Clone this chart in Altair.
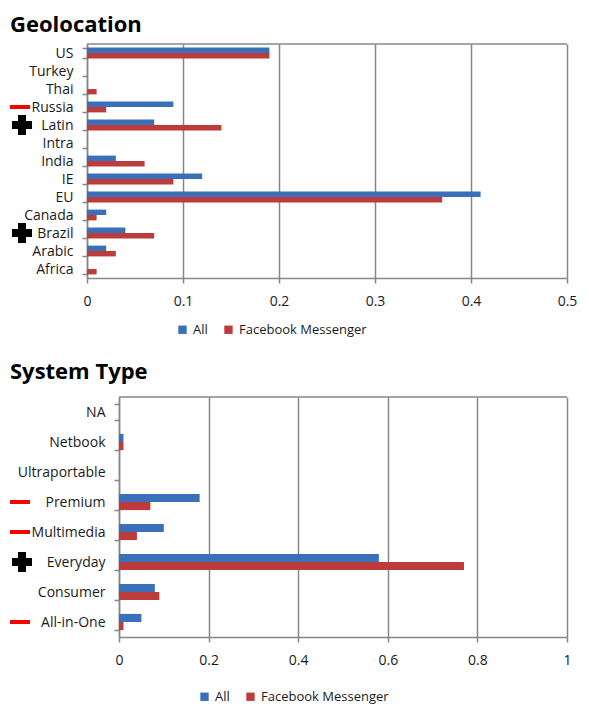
import altair as alt
import pandas as pd

SERIES = ["All", "Facebook Messenger"]
COLORS = ["#3A70BA", "#BC3B3B"]

geo_categories = ["US", "Turkey", "Thai", "Russia", "Latin", "Intra", "India",
                  "IE", "EU", "Canada", "Brazil", "Arabic", "Africa"]
geo_all = [0.19, 0.0, 0.0, 0.09, 0.07, 0.0, 0.03, 0.12, 0.41, 0.02, 0.04, 0.02, 0.0]
geo_fb = [0.19, 0.0, 0.01, 0.02, 0.14, 0.0, 0.06, 0.09, 0.37, 0.01, 0.07, 0.03, 0.01]
geo_minus = ["Russia"]
geo_plus = ["Latin", "Brazil"]
geo_ticks = [0, 0.1, 0.2, 0.3, 0.4, 0.5]

sys_categories = ["NA", "Netbook", "Ultraportable", "Premium", "Multimedia",
                  "Everyday", "Consumer", "All-in-One"]
sys_all = [0.0, 0.01, 0.0, 0.18, 0.10, 0.58, 0.08, 0.05]
sys_fb = [0.0, 0.01, 0.0, 0.07, 0.04, 0.77, 0.09, 0.01]
sys_minus = ["Premium", "Multimedia", "All-in-One"]
sys_plus = ["Everyday"]
sys_ticks = [0, 0.2, 0.4, 0.6, 0.8, 1]

FONT = "Open Sans"
GRID = "#878787"
TXT = "#1a1a1a"


def panel(title, cats, a, f, minus, plus, ticks, xmax, width, height, shift,
          pad_inner, icon_x, legend_x, legend_y, title_offset):
    rows = []
    for c, va, vf in zip(cats, a, f):
        rows.append({"cat": c, "series": SERIES[0], "value": va})
        rows.append({"cat": c, "series": SERIES[1], "value": vf})
    df = pd.DataFrame(rows)
    total_w = width + shift
    ysc = alt.Scale(domain=cats, paddingInner=pad_inner, paddingOuter=pad_inner / 2)
    xsc = alt.Scale(domain=[0, xmax], nice=False, range=[shift, total_w])
    yenc = alt.Y("cat:N", sort=cats, scale=ysc, title=None,
                 axis=alt.Axis(tickBand="extent", labelFontSize=14, labelFont=FONT,
                               labelColor=TXT, labelPadding=9, tickSize=5,
                               tickColor=GRID, domainColor=GRID, domainWidth=1.5,
                               tickWidth=1.5, offset=-shift))
    bars = alt.Chart(df).mark_bar().encode(
        x=alt.X("value:Q", scale=xsc, title=None,
                axis=alt.Axis(values=ticks, format="~g", labelFontSize=14, labelFont=FONT,
                              labelColor=TXT, labelPadding=11, tickSize=5,
                              tickColor=GRID, tickWidth=1.5, gridColor=GRID,
                              gridWidth=1.5, domainColor=GRID, domainWidth=1.5,
                              labelFlush=False)),
        y=yenc,
        yOffset=alt.YOffset("series:N", sort=SERIES),
        color=alt.Color("series:N", sort=SERIES,
                        scale=alt.Scale(domain=SERIES, range=COLORS),
                        legend=alt.Legend(title=None, orient="none", direction="horizontal",
                                          legendX=legend_x, legendY=legend_y,
                                          symbolType="square", symbolSize=70,
                                          symbolStrokeWidth=0, labelFontSize=13,
                                          labelFont=FONT, labelColor=TXT,
                                          labelOffset=4, columnPadding=14)),
    )
    frame_top = alt.Chart(pd.DataFrame({"lo": [0], "hi": [xmax]})).mark_rule(
        color=GRID, strokeWidth=1.5).encode(
        x=alt.X("lo:Q", scale=xsc), x2="hi:Q", y=alt.value(0))
    mdf = pd.DataFrame({"cat": minus})
    pdf = pd.DataFrame({"cat": plus})
    dash = alt.Chart(mdf).mark_rule(color="#ff0000", strokeWidth=4).encode(
        x=alt.value(icon_x), x2=alt.value(icon_x + 20),
        y=alt.Y("cat:N", sort=cats, scale=ysc),
    )
    cross = alt.Chart(pdf).mark_point(shape="cross", filled=True, color="black",
                                      opacity=1, size=400).encode(
        x=alt.value(icon_x + 12),
        y=alt.Y("cat:N", sort=cats, scale=ysc),
    )
    return alt.layer(bars, frame_top, dash, cross).properties(
        width=total_w, height=height,
        title=alt.TitleParams(title, anchor="start", frame="bounds", fontSize=22,
                              font=FONT, fontWeight="bold", color="black",
                              offset=title_offset, dx=2),
    )


top = panel("Geolocation", geo_categories, geo_all, geo_fb, geo_minus, geo_plus,
            geo_ticks, 0.5, 480, 234, 0, 0.4, -77, 89, 279, 0)
bottom = panel("System Type", sys_categories, sys_all, sys_fb, sys_minus, sys_plus,
               sys_ticks, 1, 448, 240, 32, 0.46, -77, 111, 293, 6)

chart = alt.vconcat(top, bottom, spacing=24).resolve_scale(
    color="independent", y="independent", x="independent", yOffset="independent"
).configure(padding={"top": 6, "left": 0, "right": 0, "bottom": 0}).configure_view(strokeWidth=0)

chart.save("out.html", embed_options={"renderer": "svg", "actions": False})
